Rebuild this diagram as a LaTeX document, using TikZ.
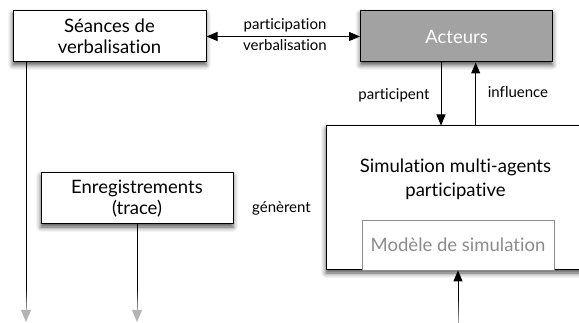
\documentclass[tikz,border=0pt]{standalone}
\usepackage{fontspec}
\setmainfont{Lato}[Ligatures={NoCommon}]
\usetikzlibrary{arrows.meta,shadows.blur}
\definecolor{actfill}{RGB}{162,162,162}
\definecolor{fadeg}{RGB}{180,180,180}
\definecolor{modg}{RGB}{140,140,140}
\begin{document}
\begin{tikzpicture}[x=1pt,y=-1pt,
  shad/.style={blur shadow={shadow xshift=0pt, shadow yshift=-3pt, shadow blur radius=5pt, shadow opacity=70}},
  box/.style={draw=black, line width=1pt, fill=white, shad,
    align=center, font=\fontsize{18.5}{21}\selectfont, inner sep=0pt},
  lbl/.style={font=\fontsize{15}{20}\selectfont, inner sep=0pt, align=center},
  tip/.style={-{Triangle[length=11pt,width=9pt]}},
  conn/.style={line width=1pt, tip},
  graytip/.style={-{Triangle[length=12pt,width=10pt,fill=fadeg]}},
]
\useasboundingbox (0,0) rectangle (579,323);
\clip (0,0) rectangle (579,323);

% shadow of the Acteurs box
\begin{scope}
  \path[shad, fill=white] (360.5,11) rectangle (552.5,62);
\end{scope}

% nodes
\node[box, minimum width=193pt, minimum height=51pt] (sean) at (109.5,36.5) {Séances de\\verbalisation};
\node[draw=black, line width=1pt, fill=actfill, text=white, align=center, font=\fontsize{18.5}{21}\selectfont,
      inner sep=0pt, minimum width=192pt, minimum height=51pt] (act) at (456.5,36.5) {Acteurs};
\node[box, minimum width=192pt, minimum height=51pt] (enr) at (137,198.5) {Enregistrements\\(trace)};
\node[box, minimum width=274pt, minimum height=144pt] (sim) at (463,198) {};
\node[font=\fontsize{18.5}{24}\selectfont, align=center, inner sep=0pt] (simtxt) at (455.5,179) {Simulation multi-agents\\participative};
\node[draw=modg, line width=0.8pt, fill=white, text=modg, font=\fontsize{18.5}{21}\selectfont,
      minimum width=192pt, minimum height=50pt, inner sep=0pt] (mod) at (458,245) {Modèle de simulation};

% coordinates
\coordinate (px) at (441,0);
\coordinate (qx) at (475.7,0);
\coordinate (s1) at (26,288);
\coordinate (s2) at (26,310);
\coordinate (s3) at (26,322);
\coordinate (e1) at (137,288);
\coordinate (e2) at (137,310);
\coordinate (e3) at (137,322);
\coordinate (u0) at (458,323);
\coordinate (u1) at (458,298);

% connectors
\draw[line width=1pt, {Triangle[length=11pt,width=9pt]}-{Triangle[length=11pt,width=9pt]}] (sean.east) -- (act.west);
\node[lbl] (lp) at (285,25) {participation};
\node[lbl] (lv) at (285,45) {verbalisation};

\draw[conn] (act.south -| px) -- (sim.north -| px);
\draw[conn] (sim.north -| qx) -- (act.south -| qx);
\node[lbl] (lpa) at (394,95) {participent};
\node[lbl] (lin) at (518,92) {influence};
\node[lbl] (lge) at (281.5,208) {génèrent};

% Seances down (fading to gray)
\draw[line width=1pt] (sean.south -| s1) -- (s1);
\foreach \i [evaluate=\i as \p using int(100-10*\i)] in {0,...,9}
  \draw[line width=1pt, draw=black!\p!fadeg] (26,288+2.2*\i) -- (26,288+2.2*\i+2.4);
\draw[line width=1pt, draw=fadeg, graytip] (s2) -- (s3);

% Enregistrements down
\draw[line width=1pt] (enr.south) -- (e1);
\foreach \i [evaluate=\i as \p using int(100-10*\i)] in {0,...,9}
  \draw[line width=1pt, draw=black!\p!fadeg] (137,288+2.2*\i) -- (137,288+2.2*\i+2.4);
\draw[line width=1pt, draw=fadeg, graytip] (e2) -- (e3);

% bottom up arrow to Modele
\foreach \i [evaluate=\i as \p using int(100-10*\i)] in {0,...,9}
  \draw[line width=1pt, draw=black!\p!fadeg] (458,298+2.5*\i) -- (458,298+2.5*\i+2.7);
\draw[conn] (u1) -- (mod.south);
\end{tikzpicture}
\end{document}
